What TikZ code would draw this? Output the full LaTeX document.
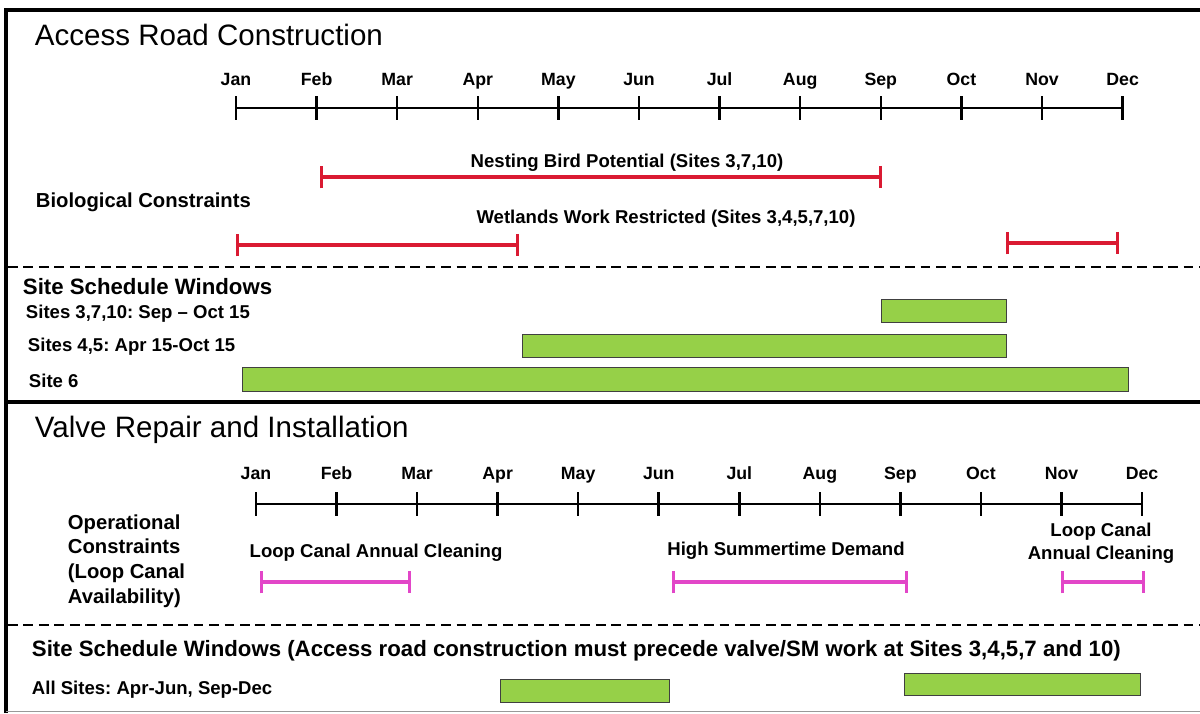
\documentclass[tikz,border=0pt]{standalone}
\usepackage{fontspec}
\setmainfont{Liberation Sans}
\usetikzlibrary{arrows.meta}

\definecolor{barred}{RGB}{218,26,50}
\definecolor{barpink}{RGB}{226,70,200}
\definecolor{barfill}{RGB}{150,208,72}

\tikzset{
  frame/.style={line width=2.8pt},
  divider/.style={line width=2pt, dash pattern=on 7pt off 4pt},
  axis/.style={line width=1.8pt},
  redspan/.style={draw=barred, line width=2.4pt, {Bar[width=16pt]}-{Bar[width=16pt]}},
  pinkspan/.style={draw=barpink, line width=2.2pt, {Bar[width=16pt]}-{Bar[width=16pt]}},
  window/.style={fill=barfill, draw=black!75, line width=0.7pt},
  heading/.style={anchor=west, font=\fontsize{21}{25}\selectfont},
  month/.style={font=\bfseries\fontsize{12.6}{15}\selectfont, text height=9pt, text depth=0pt},
  lbl/.style={font=\bfseries\fontsize{13.2}{16.3}\selectfont},
  biglbl/.style={anchor=west, font=\bfseries\fontsize{14.4}{17.5}\selectfont},
  subhead/.style={anchor=west, font=\bfseries\fontsize{15.8}{19}\selectfont}
}

\begin{document}
\frenchspacing
\begin{tikzpicture}[x=0.025cm, y=-0.025cm]
    \useasboundingbox (0,0) rectangle (1200,713);

    % frame and dividers
    \draw[frame] (6,713) -- (6,10) -- (1200,10);
    \draw[frame] (6,402) -- (1200,402);
    \draw[black!40, line width=0.8pt] (6,711.5) -- (1200,711.5);
    \draw[divider] (8,267) -- (1200,267);
    \draw[divider] (8,625) -- (1200,625);

    % Access road construction - timeline
    \node[heading] (roadtitle) at (30,35) {Access Road Construction};
    \draw[axis] (236,108) -- (1123,108);
    \foreach \m [count=\i from 0] in {Jan,Feb,Mar,Apr,May,Jun,Jul,Aug,Sep,Oct,Nov,Dec} {
      \draw[axis] (236+80.6*\i,96) -- (236+80.6*\i,120);
      \node[month] (road\m) at (236+80.6*\i,79) {\m};
    }

    % Biological constraints
    \node[biglbl] (bio) at (31,202) {Biological Constraints};
    \node[lbl] (nesting) at (627,163) {Nesting Bird Potential (Sites 3,7,10)};
    \draw[redspan] (320,177) -- (882,177);
    \node[lbl] (wetlands) at (666,219) {Wetlands Work Restricted (Sites 3,4,5,7,10)};
    \draw[redspan] (236,245) -- (519,245);
    \draw[redspan] (1006,243) -- (1119,243);

    % Site schedule windows (road)
    \node[subhead] (roadsched) at (18,287) {Site Schedule Windows};
    \node[lbl, anchor=west] (sitesA) at (21,314) {Sites 3,7,10: Sep -- Oct 15};
    \node[lbl, anchor=west] (sitesB) at (23,347) {Sites 4,5: Apr 15-Oct 15};
    \node[lbl, anchor=west] (sitesC) at (24,381) {Site 6};
    \draw[window] (881,299) rectangle (1006,322);
    \draw[window] (522,334) rectangle (1006,357);
    \draw[window] (242,367) rectangle (1128,391);

    % Valve repair and installation - timeline
    \node[heading] (valvetitle) at (30,430) {Valve Repair and Installation};
    \draw[axis] (256,504) -- (1142,504);
    \foreach \m [count=\i from 0] in {Jan,Feb,Mar,Apr,May,Jun,Jul,Aug,Sep,Oct,Nov,Dec} {
      \draw[axis] (256+80.55*\i,492) -- (256+80.55*\i,516);
      \node[month] (valve\m) at (256+80.55*\i,473) {\m};
    }

    % Operational constraints
    \node[biglbl, align=left] (oper) at (63,561) {Operational\\Constraints\\(Loop Canal\\Availability)};
    \node[lbl] (cleanA) at (376,553) {Loop Canal Annual Cleaning};
    \draw[pinkspan] (260,582) -- (411,582);
    \node[lbl] (summer) at (786,551) {High Summertime Demand};
    \draw[pinkspan] (672,582) -- (908,582);
    \node[lbl, align=center] (cleanB) at (1101,543) {Loop Canal\\Annual Cleaning};
    \draw[pinkspan] (1061,582) -- (1145,582);

    % Site schedule windows (valves)
    \node[subhead] (valvesched) at (27,651) {Site Schedule Windows (Access road construction must precede valve/SM work at Sites 3,4,5,7 and 10)};
    \node[lbl, anchor=west] (allsites) at (27,690) {All Sites: Apr-Jun, Sep-Dec};
    \draw[window] (500,679) rectangle (669,702);
    \draw[window] (904,673) rectangle (1140,695);

\end{tikzpicture}
\end{document}
